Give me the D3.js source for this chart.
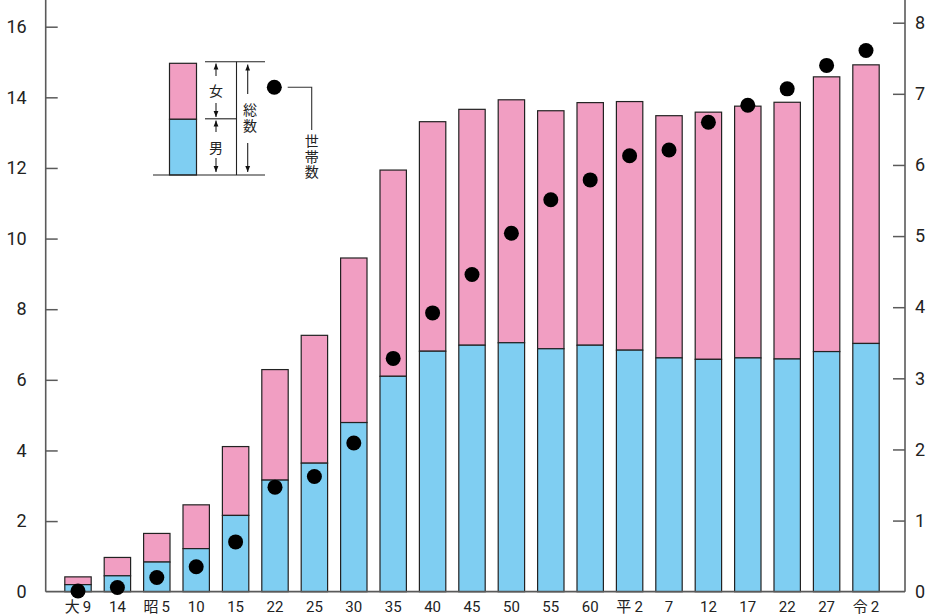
<!DOCTYPE html>
<html><head><meta charset="utf-8">
<script src="https://cdn.jsdelivr.net/npm/d3@7"></script>
<style>
html,body{margin:0;padding:0;background:#fff;}
svg{display:block;}
</style></head>
<body>
<svg id="chart" width="946" height="616"></svg>
<script>
const categories = ["大\u20099","14","昭\u20095","10","15","22","25","30","35","40","45","50","55","60","平\u20092","7","12","17","22","27","令\u20092"];
const male   = [0.20,0.45,0.84,1.22,2.16,3.16,3.64,4.79,6.10,6.81,6.98,7.05,6.88,6.98,6.84,6.62,6.58,6.62,6.59,6.80,7.03];
const total  = [0.42,0.97,1.65,2.46,4.11,6.29,7.26,9.45,11.94,13.31,13.66,13.93,13.62,13.85,13.88,13.48,13.58,13.75,13.86,14.58,14.92];
const households = [0.01,0.06,0.20,0.35,0.70,1.47,1.62,2.09,3.28,3.92,4.46,5.04,5.51,5.79,6.13,6.21,6.60,6.84,7.07,7.40,7.61];
const leftTicks = [0,2,4,6,8,10,12,14,16];
const rightTicks = [0,1,2,3,4,5,6,7,8];

const PINK = "#F19EC2", BLUE = "#7FCEF2", AXIS = "#5a5a5a";
const svg = d3.select("#chart");
const axL = 45.7, axR = 905, base = 591.7;

const idx = categories.map((d,i)=>i);
const x = d3.scaleBand().domain(idx).range([58.3, 885.7]).paddingInner(0.33).paddingOuter(0.165);
const yL = d3.scaleLinear().domain([0,16]).range([base, 26.7]);
const yR = d3.scaleLinear().domain([0,8]).range([base, 22.7]);

// bars
const g = svg.append("g");
idx.forEach(i=>{
  g.append("rect").attr("x", x(i)).attr("width", x.bandwidth())
    .attr("y", yL(total[i])).attr("height", yL(male[i]) - yL(total[i]))
    .attr("fill", PINK).attr("stroke", "#222").attr("stroke-width", 1.2);
  g.append("rect").attr("x", x(i)).attr("width", x.bandwidth())
    .attr("y", yL(male[i])).attr("height", base - yL(male[i]))
    .attr("fill", BLUE).attr("stroke", "#222").attr("stroke-width", 1.2);
});

// axes lines
svg.append("line").attr("x1", axL).attr("x2", axL).attr("y1", 0).attr("y2", base).attr("stroke", AXIS).attr("stroke-width", 1.6);
svg.append("line").attr("x1", axR).attr("x2", axR).attr("y1", 0).attr("y2", base).attr("stroke", AXIS).attr("stroke-width", 1.6);
svg.append("line").attr("x1", axL).attr("x2", axR).attr("y1", base).attr("y2", base).attr("stroke", AXIS).attr("stroke-width", 1.8);

const la = svg.append("g").attr("transform", `translate(${axL},0)`)
  .call(d3.axisLeft(yL).tickValues(leftTicks).tickSize(-12).tickPadding(19));
const ra = svg.append("g").attr("transform", `translate(${axR},0)`)
  .call(d3.axisRight(yR).tickValues(rightTicks).tickSize(-12).tickPadding(10));
[la, ra].forEach(a=>{
  a.select(".domain").remove();
  a.selectAll(".tick line").attr("stroke", AXIS).attr("stroke-width", 1.5);
  a.selectAll(".tick text").attr("fill", "#222").style("font-family", "Roboto, 'Noto Sans', sans-serif").style("font-size", "18px");
});
la.selectAll(".tick").filter(d=>d===0).select("line").remove();
ra.selectAll(".tick").filter(d=>d===0).select("line").remove();

const xa = svg.append("g").attr("transform", `translate(0,${base})`)
  .call(d3.axisBottom(x).tickSize(0).tickPadding(10).tickFormat(i=>categories[i]));
xa.select(".domain").remove();
xa.selectAll(".tick text").attr("fill", "#222").style("font-family", "Roboto, 'Noto Sans CJK JP', sans-serif").style("font-size", "15px");

// household dots
svg.append("g").selectAll("circle").data(idx).join("circle")
  .attr("cx", i=>x(i)+x.bandwidth()/2).attr("cy", i=>yR(households[i])).attr("r", 7.5).attr("fill", "#000");

// legend
const lg = svg.append("g");
const defs = svg.append("defs");
defs.append("marker").attr("id","ah").attr("viewBox","0 0 10 10").attr("refX",10).attr("refY",5)
  .attr("markerWidth",6).attr("markerHeight",6).attr("markerUnits","userSpaceOnUse").attr("orient","auto")
  .append("path").attr("d","M0,1 L10,5 L0,9 Z").attr("fill","#111");
lg.append("rect").attr("x",169.5).attr("width",27).attr("y",63.3).attr("height",56).attr("fill",PINK).attr("stroke","#222").attr("stroke-width",1.2);
lg.append("rect").attr("x",169.5).attr("width",27).attr("y",119.3).attr("height",55.7).attr("fill",BLUE).attr("stroke","#222").attr("stroke-width",1.2);
const ln = (x1,y1,x2,y2,arrow)=>{ const l = lg.append("line").attr("x1",x1).attr("y1",y1).attr("x2",x2).attr("y2",y2).attr("stroke","#222").attr("stroke-width",1.1); if(arrow) l.attr("marker-end","url(#ah)"); };
ln(205,61.7,265,61.7); ln(205,118.8,237,118.8); ln(153,175,265,175); ln(236.5,61.7,236.5,175);
ln(216,76,216,63.5,true); ln(216,103,216,117,true);
ln(216,132,216,120.5,true); ln(216,158,216,172,true);
ln(247.7,94,247.7,64.5,true); ln(247.7,143,247.7,172,true);
const lt = (t,xx,yy)=>lg.append("text").attr("x",xx).attr("y",yy).attr("text-anchor","middle").attr("dominant-baseline","central")
  .style("font-family","'Noto Sans CJK JP', sans-serif").style("font-size","14px").attr("fill","#222").text(t);
const vt = (t,xx,yTop)=>lg.append("text").attr("x",xx).attr("y",yTop)
  .style("writing-mode","vertical-rl").style("letter-spacing","1.5px")
  .style("font-family","'Noto Sans CJK JP', sans-serif").style("font-size","14px").attr("fill","#222").text(t);
lt("女",216,90); lt("男",216,146.5);
vt("総数",250,103);
lg.append("circle").attr("cx",274.3).attr("cy",87.3).attr("r",7.5).attr("fill","#000");
lg.append("path").attr("d","M287.7,87.3 H311.7 V130").attr("fill","none").attr("stroke","#333").attr("stroke-width",1.1);
vt("世帯数",311.7,134);
</script>
</body></html>
